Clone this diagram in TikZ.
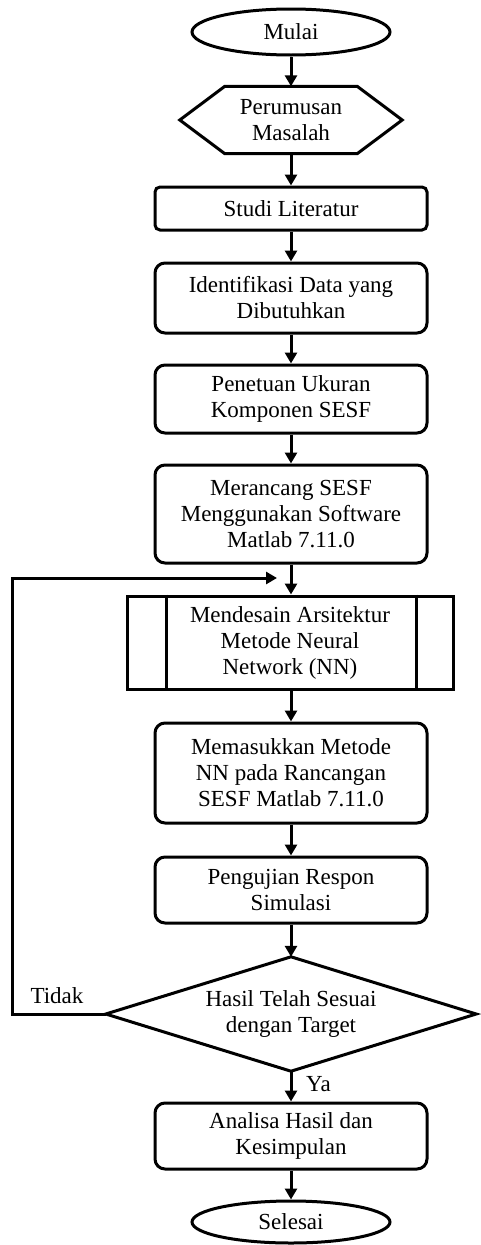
\documentclass[tikz,border=0pt]{standalone}
\usepackage{fontspec}
\setmainfont{Liberation Serif}
\usetikzlibrary{shapes.geometric,arrows.meta,calc}
\begin{document}
\begin{tikzpicture}[x=1pt,y=-1pt,
  every node/.style={font=\fontsize{23}{26}\selectfont, align=center, inner sep=0pt},
  line/.style={line width=3pt},
  arr/.style={line width=3pt,-{Triangle[length=11pt,width=12pt]}},
  term/.style={ellipse, draw, line width=3pt, minimum width=198, minimum height=46},
  procbox/.style={rectangle, draw, line width=3pt, rounded corners=10pt, minimum width=272},
  ghost/.style={rectangle, minimum width=#1},
]
\useasboundingbox (0,0) rectangle (481,1245);

\node[term] (mulai) at (291,32) {Mulai};

\node[ghost=222, minimum height=67] (hex) at (291,120) {Perumusan\\Masalah};
\draw[line, line join=miter] (hex.west) -- ($(hex.north west)+(45,0)$) -- ($(hex.north east)+(-45,0)$)
  -- (hex.east) -- ($(hex.south east)+(-45,0)$) -- ($(hex.south west)+(45,0)$) -- cycle;

\node[procbox, rounded corners=5pt, minimum height=43] (studi) at (291,208.5) {Studi Literatur};
\node[procbox, minimum height=70] (ident) at (291,298) {Identifikasi Data yang\\Dibutuhkan};
\node[procbox, minimum height=68] (penet) at (291,399) {Penetuan Ukuran\\Komponen SESF};
\node[procbox, minimum height=98] (meran) at (291,514) {Merancang SESF\\Menggunakan Software\\Matlab 7.11.0};

\node[rectangle, draw, line width=3pt, minimum width=326, minimum height=93] (mend) at (290,642.5) {Mendesain Arsitektur\\Metode Neural\\Network (NN)};
\draw[line] ($(mend.north west)+(41,0)$) -- ($(mend.south west)+(41,0)$);
\draw[line] ($(mend.north east)+(-38,0)$) -- ($(mend.south east)+(-38,0)$);

\node[procbox, minimum height=100] (memas) at (291,773) {Memasukkan Metode\\NN pada Rancangan\\SESF Matlab 7.11.0};
\node[procbox, minimum height=66] (pengu) at (291,890) {Pengujian Respon\\Simulasi};

\node[ghost=370, minimum height=114] (dia) at (291,1014) {Hasil Telah Sesuai\\dengan Target};
\draw[line, line join=miter] (dia.west) -- (dia.north) -- (dia.east) -- (dia.south) -- cycle;

\node[procbox, minimum height=66] (anal) at (291,1136) {Analisa Hasil dan\\Kesimpulan};
\node[term, minimum height=42] (sel) at (291,1222) {Selesai};

\draw[arr] (mulai.south) -- (hex.north);
\draw[arr] (hex.south) -- (studi.north);
\draw[arr] (studi.south) -- (ident.north);
\draw[arr] (ident.south) -- (penet.north);
\draw[arr] (penet.south) -- (meran.north);
\draw[arr] (meran.south) -- (meran.south |- mend.north);
\draw[arr] (memas.north |- mend.south) -- (memas.north);
\draw[arr] (memas.south) -- (pengu.north);
\draw[arr] (pengu.south) -- (dia.north);
\draw[arr] (dia.south) -- (anal.north);
\draw[arr] (anal.south) -- (sel.north);

\coordinate (fbA) at (12,1014);
\coordinate (fbB) at (12,578);
\coordinate (fbC) at (277,578);
\draw[arr, line join=miter] (dia.west) -- (fbA) -- (fbB) -- (fbC);

\node (tidak) at (57,996) {Tidak};
\node[anchor=west] (ya) at (306,1084) {Ya};
\end{tikzpicture}
\end{document}
